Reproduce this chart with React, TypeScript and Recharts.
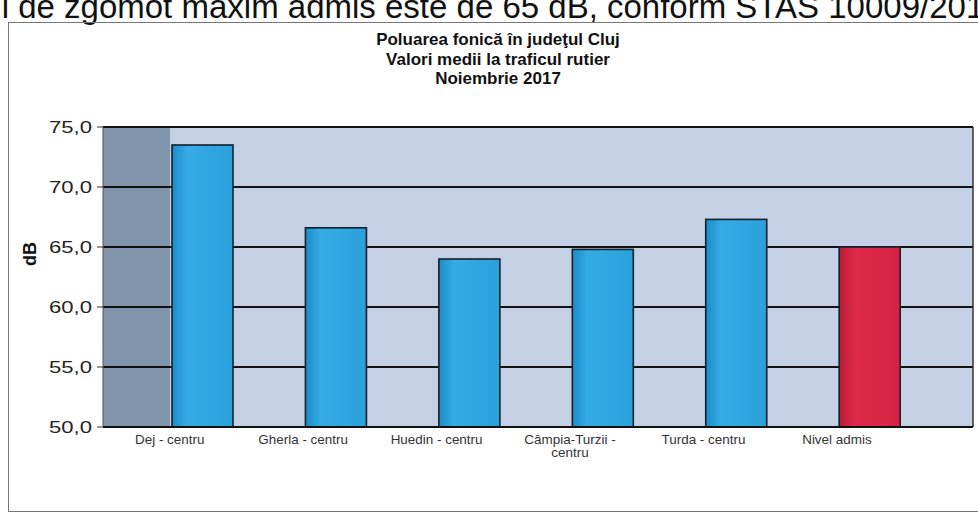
import React from 'react';
import { BarChart, Bar, XAxis, YAxis, CartesianGrid, ReferenceLine } from 'recharts';

const categories = [
  'Dej - centru',
  'Gherla - centru',
  'Huedin - centru',
  'Câmpia-Turzii - centru',
  'Turda - centru',
  'Nivel admis',
];
const values = [73.5, 66.6, 64.0, 64.8, 67.3, 65.0];
const barKinds = ['measured', 'measured', 'measured', 'measured', 'measured', 'limit'];
const yTicks = [50, 55, 60, 65, 70, 75];
const xTicks = [0, 1, 2, 3, 4, 5];
const titleLines = ['Poluarea fonică în judeţul Cluj', 'Valori medii la traficul rutier', 'Noiembrie 2017'];
const headerText = 'Nivelul de zgomot maxim admis este de 65 dB, conform STAS 10009/2017';
const yLabel = 'dB';

const data = categories.map((name, i) => ({ idx: i, name, value: values[i], kind: barKinds[i] }));

const FONT = '"Liberation Sans", Arial, sans-serif';
const DEPTH = 33;
const X_MIN = -0.5;
const X_MAX = 6.02;
const SIDE_WALL_END = 0;
const sideFrac = (SIDE_WALL_END - X_MIN) / (X_MAX - X_MIN);

function wrap(label: string, max: number): string[] {
  const words = label.split(' ');
  const lines: string[] = [];
  let cur = '';
  for (const w of words) {
    const t = cur ? cur + ' ' + w : w;
    if (t.length > max && cur) {
      lines.push(cur);
      cur = w;
    } else cur = t;
  }
  if (cur) lines.push(cur);
  return lines;
}

const XTick = (props: any) => {
  const { x, y, payload } = props;
  const name = categories[payload.value] ?? '';
  const lines = wrap(name, 15);
  return (
    <g transform={`translate(${x},${y}) scale(1.12,1)`}>
      <text x={0} y={9} textAnchor="middle" fontSize={12} fill="#333" fontFamily={FONT}>
        {lines.map((l, i) => (
          <tspan key={i} x={0} dy={i === 0 ? 0 : 13}>
            {l}
          </tspan>
        ))}
      </text>
    </g>
  );
};

const YTick = (props: any) => {
  const { x, y, payload } = props;
  const s = Number(payload.value).toFixed(1).replace('.', ',');
  return (
    <text x={x - 3} y={y + 6} textAnchor="end" fontSize={17} fill="#222" fontFamily={FONT}
      textLength={43} lengthAdjust="spacingAndGlyphs">
      {s}
    </text>
  );
};

const BarShape = (props: any) => {
  const { x, y, width, height, payload } = props;
  const fill = payload.kind === 'limit' ? 'url(#gRed)' : 'url(#gBlue)';
  return (
    <rect x={x + DEPTH} y={y} width={width} height={height} fill={fill} stroke="#14202c" strokeWidth={1.6} />
  );
};

export default function App() {
  return (
    <div style={{ position: 'absolute', left: 0, top: 0, width: 978, height: 514, overflow: 'hidden', background: '#fff', fontFamily: FONT }}>
      <div style={{ position: 'absolute', left: -90, top: -10, fontSize: 33, lineHeight: '33px', whiteSpace: 'nowrap', color: '#111' }}>
        {headerText}
      </div>
      <div style={{ position: 'absolute', left: 8, top: 22, width: 980, height: 488, border: '1px solid #777' }} />
      <div style={{ position: 'absolute', left: 323, top: 30, width: 350, textAlign: 'center', fontWeight: 'bold', fontSize: 17, lineHeight: '19.5px', color: '#111' }}>
        {titleLines.map((t, i) => (
          <div key={i}>{t}</div>
        ))}
      </div>
      <div style={{ position: 'absolute', left: 12, top: 244, width: 36, textAlign: 'center', transform: 'rotate(-90deg)', fontWeight: 'bold', fontSize: 18, lineHeight: '20px', color: '#111' }}>
        {yLabel}
      </div>
      <div style={{ position: 'absolute', left: 0, top: 0 }}>
        <BarChart width={978} height={514} data={data} margin={{ top: 127, right: 5, bottom: 57, left: 43 }}>
          <defs>
            <linearGradient id="gBlue" x1="0" y1="0" x2="1" y2="0">
              <stop offset="0" stopColor="#1b8cc8" />
              <stop offset="0.25" stopColor="#35abe4" />
              <stop offset="1" stopColor="#2ba0da" />
            </linearGradient>
            <linearGradient id="gRed" x1="0" y1="0" x2="1" y2="0">
              <stop offset="0" stopColor="#b81a36" />
              <stop offset="0.25" stopColor="#de2a49" />
              <stop offset="1" stopColor="#d42343" />
            </linearGradient>
            <linearGradient id="wall" x1="0" y1="0" x2="1" y2="0">
              <stop offset="0" stopColor="#8195ac" />
              <stop offset={sideFrac} stopColor="#8195ac" />
              <stop offset={sideFrac} stopColor="#c4d1e5" />
              <stop offset="1" stopColor="#c4d1e5" />
            </linearGradient>
          </defs>
          <CartesianGrid vertical={false} stroke="#111" strokeWidth={2} strokeOpacity={1} fill="url(#wall)" fillOpacity={1} />
          <ReferenceLine x={X_MAX} stroke="#333" strokeWidth={1.5} />
          <XAxis
            dataKey="idx"
            type="number"
            domain={[X_MIN, X_MAX]}
            ticks={xTicks}
            allowDataOverflow
            height={30}
            tick={<XTick />}
            tickLine={false}
            axisLine={{ stroke: '#111', strokeWidth: 2 }}
          />
          <YAxis
            domain={[50, 75]}
            ticks={yTicks}
            width={60}
            tick={<YTick />}
            tickSize={6}
            tickLine={{ stroke: '#333' }}
            axisLine={{ stroke: '#555' }}
          />
          <Bar dataKey="value" barSize={61} shape={<BarShape />} isAnimationActive={false} />
        </BarChart>
      </div>
    </div>
  );
}
